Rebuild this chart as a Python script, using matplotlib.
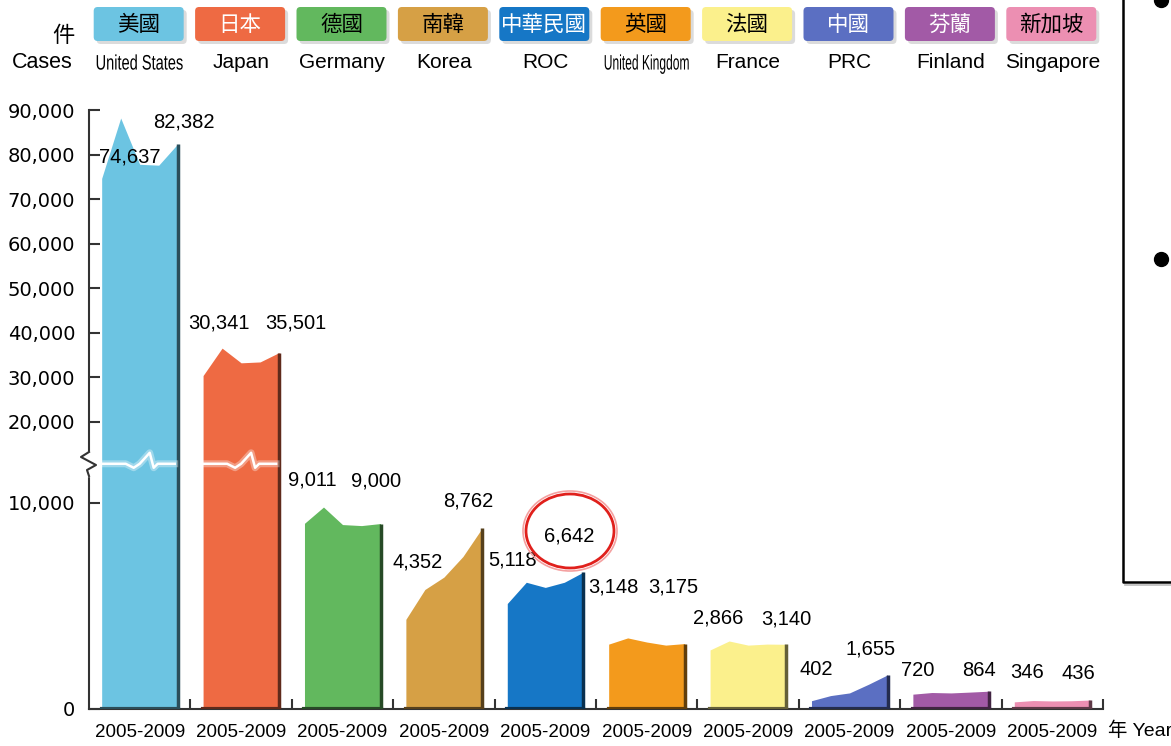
import numpy as np
import matplotlib
matplotlib.use('Agg')
import matplotlib.pyplot as plt
from matplotlib.patches import FancyBboxPatch, Ellipse, Rectangle, PathPatch
from matplotlib.lines import Line2D
from matplotlib.transforms import Affine2D
from matplotlib.textpath import TextPath
from matplotlib.font_manager import FontProperties
from matplotlib.colors import to_rgb

W, H = 1171, 746

names_zh = ['美國', '日本', '德國', '南韓', '中華民國', '英國', '法國', '中國', '芬蘭', '新加坡']
names_en = ['United States', 'Japan', 'Germany', 'Korea', 'ROC',
            'United Kingdom', 'France', 'PRC', 'Finland', 'Singapore']
period = '2005-2009'

# cases per year 2005..2009 (first and last are the printed numbers)
us = [74637, 88200, 77800, 77600, 82382]
japan = [30341, 36500, 33200, 33400, 35501]
germany = [9011, 9800, 8950, 8900, 9000]
korea = [4352, 5800, 6400, 7400, 8762]
roc = [5118, 6150, 5900, 6150, 6642]
uk = [3148, 3450, 3250, 3100, 3175]
france = [2866, 3300, 3100, 3150, 3140]
prc = [402, 650, 780, 1200, 1655]
finland = [720, 800, 780, 820, 864]
singapore = [346, 410, 390, 400, 436]
series = [us, japan, germany, korea, roc, uk, france, prc, finland, singapore]

colors = ['#6cc4e2', '#ee6a43', '#62b85e', '#d6a045', '#1677c6',
          '#f39a1c', '#fbf08c', '#5b6fc2', '#a25aa6', '#ec8fb2']
swatch_text = ['black', 'white', 'black', 'black', 'white',
               'black', 'black', 'white', 'white', 'black']

# label offsets in pixels from the first / last point
first_off = [(28, 21), (16, 53), (8, 43), (12, 57), (5, 44),
             (5, 57), (8, 32), (5, 31), (5, 24), (13, 29)]
last_off = [(6, 22), (17, 30), (-4, 43), (-14, 27), (-14, 36),
            (-11, 57), (0, 25), (-17, 26), (-10, 21), (-12, 27)]

# broken y axis: linear below B, compressed above
B = 12280.0
K = 0.216


def fwd(v):
    v = np.asarray(v, dtype=float)
    return np.where(v <= B, v, B + (v - B) * K)


def inv(u):
    u = np.asarray(u, dtype=float)
    return np.where(u <= B, u, B + (u - B) / K)


def darker(c, f=0.4):
    r, g, b = to_rgb(c)
    return (r * f, g * f, b * f)


plt.rcParams['font.family'] = ['Liberation Sans', 'Noto Sans CJK TC']

fig = plt.figure(figsize=(W / 100, H / 100), dpi=100)
fig.patch.set_facecolor('white')
PX = Affine2D().scale(1 / W, -1 / H).translate(0, 1) + fig.transFigure


def narrow_text(s, cx, cy, size, width):
    # text squeezed to a given pixel width, like the condensed labels
    tp = TextPath((0, 0), s, size=size, prop=FontProperties(family='Liberation Sans'))
    ext = tp.get_extents()
    sx = width / ext.width
    tr = Affine2D().translate(-(ext.x0 + ext.width / 2), -size * 0.36).scale(sx, -1).translate(cx, cy)
    fig.add_artist(PathPatch(tr.transform_path(tp), transform=PX, color='black', lw=0))


x0, x1, ytop, ybot = 89, 1103, 110, 709
ax = fig.add_axes([x0 / W, (H - ybot) / H, (x1 - x0) / W, (ybot - ytop) / H])
ax.set_yscale('function', functions=(fwd, inv))
ax.set_xlim(0, 10)
ax.set_ylim(0, 90000)

for i, vals in enumerate(series):
    left, right = i + 0.125, i + 0.875
    xs = np.linspace(left, right, len(vals))
    ax.fill_between(xs, 0, vals, color=colors[i], lw=0, zorder=2)
    ax.plot([right, right], [0, vals[-1]], color=darker(colors[i]), lw=2.5,
            solid_capstyle='butt', zorder=3)
    ax.plot([left, right], [0, 0], color=darker(colors[i]), lw=3, zorder=3)
    ax.annotate(f'{vals[0]:,}', (left, vals[0]), xytext=first_off[i],
                textcoords='offset pixels', ha='center', va='center',
                fontsize=14.5, zorder=5)
    ax.annotate(f'{vals[-1]:,}', (right, vals[-1]), xytext=last_off[i],
                textcoords='offset pixels', ha='center', va='center',
                fontsize=14.5, zorder=5)

# white break line across the tall areas
vb = 11900
for i, vals in enumerate(series):
    if max(vals) <= vb:
        continue
    left, right = i + 0.125, i + 0.875
    (xl, yb), (xr, _) = ax.transData.transform([(left, vb), (right, vb)])
    xc = (xl + xr) / 2 + 6
    pts = [(xl, yb), (xc - 20, yb), (xc - 12, yb - 4), (xc - 6, yb),
           (xc + 4, yb + 11), (xc + 8, yb - 4), (xc + 12, yb), (xr - 3, yb)]
    px, py = zip(*pts)
    fig.add_artist(Line2D(px, py, color='white', lw=5, alpha=0.35, transform=None, zorder=4))
    fig.add_artist(Line2D(px, py, color='white', lw=1.8, transform=None, zorder=4))

ax.set_yticks(np.arange(0, 90001, 10000))
ax.set_yticklabels([f'{v:,}' for v in range(0, 90001, 10000)],
                   fontfamily='DejaVu Sans', fontsize=14)
ax.tick_params(axis='y', direction='in', length=8, width=1.5, color='#333333', pad=10)
ax.set_xticks(np.arange(10) + 0.5)
ax.set_xticklabels([period] * 10, fontsize=13.5)
ax.tick_params(axis='x', length=0, pad=11)
ax.set_xticks(np.arange(1, 11), minor=True)
ax.tick_params(axis='x', which='minor', direction='in', length=7, width=1.5, color='#333333')
for s in ['top', 'right']:
    ax.spines[s].set_visible(False)
for s in ['left', 'bottom']:
    ax.spines[s].set_color('#333333')
    ax.spines[s].set_linewidth(1.5)

# zigzag on the y axis at the break
fig.add_artist(Rectangle((84, 452), 10, 24, transform=PX, color='white', zorder=6))
fig.add_artist(Line2D([89, 81, 96, 87, 89], [452, 457, 465, 470, 476],
                      transform=PX, color='#333333', lw=1.5, zorder=7))

# header: swatches with names
for i in range(10):
    cx = x0 + (i + 0.5) * 101.4
    fig.add_artist(FancyBboxPatch((cx - 41, 12), 86, 30, boxstyle='round,pad=2,rounding_size=4',
                                  transform=PX, color='#999999', alpha=0.35, lw=0))
    fig.add_artist(FancyBboxPatch((cx - 44, 9), 86, 30, boxstyle='round,pad=2,rounding_size=4',
                                  transform=PX, color=colors[i], lw=0))
    fig.text((cx - 1) / W, 1 - 25 / H, names_zh[i], color=swatch_text[i], fontsize=15.5,
             family=['Noto Sans CJK TC', 'DejaVu Sans'], ha='center', va='center')
    if names_en[i] == 'United States':
        narrow_text(names_en[i], cx, 62, 21, 86)
    elif names_en[i] == 'United Kingdom':
        narrow_text(names_en[i], cx, 62, 21, 84)
    else:
        fig.text(cx / W, 1 - 62 / H, names_en[i], fontsize=15, ha='center', va='center')

fig.text(63 / W, 1 - 36 / H, '件', fontsize=16, family=['Noto Sans CJK TC'], ha='center', va='center')
fig.text(42 / W, 1 - 62 / H, 'Cases', fontsize=15.5, ha='center', va='center')
fig.text(1108 / W, 1 - 731 / H, '年 Year', fontsize=14, ha='left', va='center')

# red circle around the ROC 2009 figure
fig.add_artist(Ellipse((570, 531), 94, 80, transform=PX, fill=False, ec='#f4a0a0', lw=1.2))
fig.add_artist(Ellipse((570, 531), 88, 74, transform=PX, fill=False, ec='#e0201c', lw=2))

# frame of the neighbouring slide panel
fig.add_artist(Line2D([1123, 1123, 1171], [0, 582, 582], transform=PX, color='black', lw=1.8))
fig.add_artist(Line2D([1125, 1171], [585, 585], transform=PX, color='#bbbbbb', lw=1.2))
fig.add_artist(Line2D([1161], [259], transform=PX, marker='o', ms=10, color='black'))
fig.add_artist(Line2D([1161], [0], transform=PX, marker='o', ms=10, color='black'))

fig.savefig('out.png', dpi=100)
